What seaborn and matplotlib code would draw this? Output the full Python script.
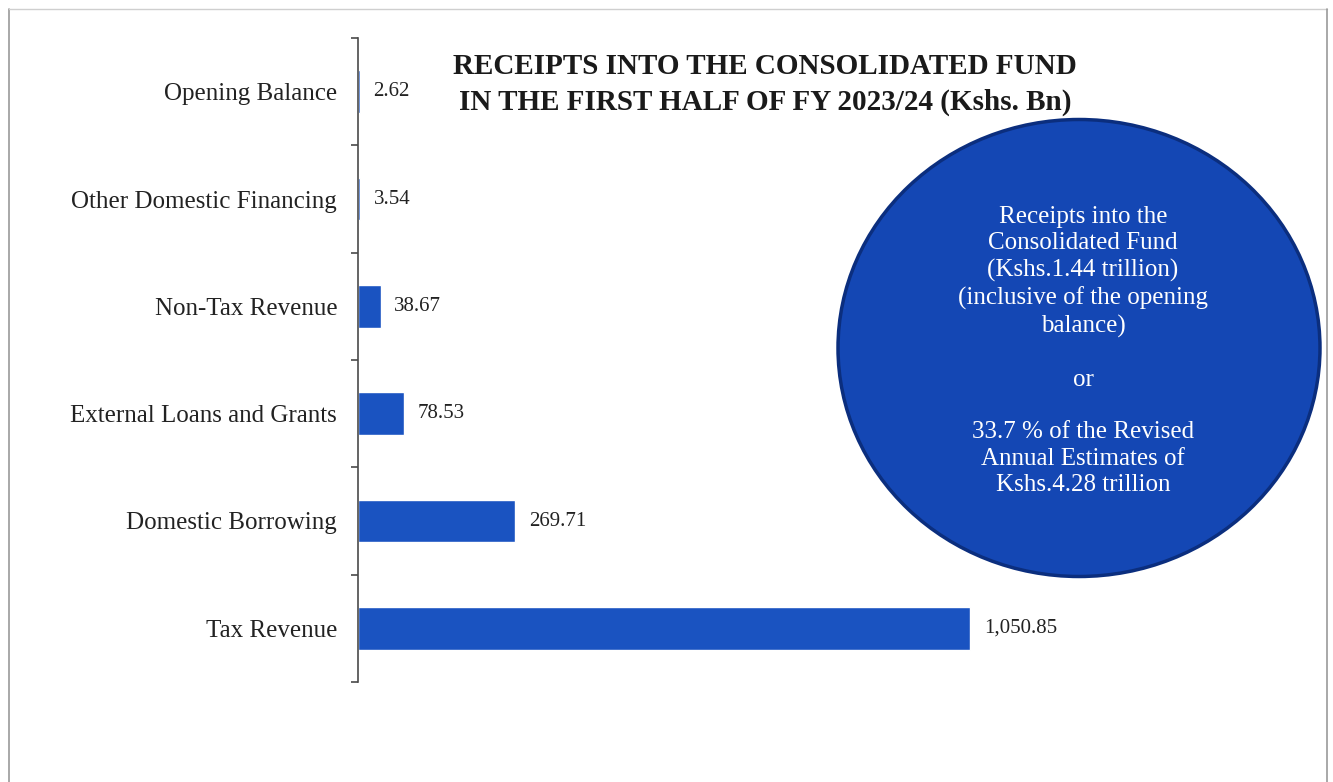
import matplotlib
matplotlib.use("Agg")
import matplotlib.pyplot as plt
from matplotlib.patches import Ellipse
from matplotlib.lines import Line2D
import seaborn as sns
import pandas as pd
import numpy as np

categories = ["Opening Balance", "Other Domestic Financing", "Non-Tax Revenue",
              "External Loans and Grants", "Domestic Borrowing", "Tax Revenue"]
values = [2.62, 3.54, 38.67, 78.53, 269.71, 1050.85]
value_labels = ["2.62", "3.54", "38.67", "78.53", "269.71", "1,050.85"]

title_lines = ["RECEIPTS INTO THE CONSOLIDATED FUND",
               "IN THE FIRST HALF OF FY 2023/24 (Kshs. Bn)"]
bubble_text = ("Receipts into the\nConsolidated Fund\n(Kshs.1.44 trillion)\n"
               "(inclusive of the opening\nbalance)\n\nor\n\n"
               "33.7 % of the Revised\nAnnual Estimates of\nKshs.4.28 trillion")

sns.set_theme(style="white")
plt.rcParams["font.family"] = ["Liberation Serif", "DejaVu Serif"]

W, H = 1333, 782
fig = plt.figure(figsize=(W / 100, H / 100), dpi=100)
fig.patch.set_facecolor("white")

ax = fig.add_axes([358 / W, 1 - 682 / H, (1300 - 358) / W, (682 - 38) / H])
df = pd.DataFrame({"category": categories, "value": values})
bar_color = "#1A53C1"
sns.barplot(data=df, x="value", y="category", orient="h", color=bar_color,
            width=0.4, saturation=1, ax=ax)

px_per_unit = 612 / 1050.85
ax.set_xlim(0, (1300 - 358) / px_per_unit)
ax.set_ylim(len(categories) - 0.5, -0.5)

for i, (v, lab) in enumerate(zip(values, value_labels)):
    ax.annotate(lab, xy=(v, i), xytext=(10, 0), textcoords="offset points",
                ha="left", va="center", fontsize=15, color="#222222")

ax.set_xlabel("")
ax.set_ylabel("")
ax.set_xticks([])
for s in ["top", "right", "bottom"]:
    ax.spines[s].set_visible(False)
ax.spines["left"].set_color("#4a4a4a")
ax.spines["left"].set_linewidth(1.2)
ax.tick_params(axis="y", which="major", length=0, pad=15, labelsize=18,
               labelcolor="#222222")
ax.set_yticks(np.arange(-0.5, len(categories), 1.0), minor=True)
ax.tick_params(axis="y", which="minor", length=5, width=1.2, color="#4a4a4a",
               direction="out", left=True)

# title
fig.text(765 / W, 1 - 66 / H, title_lines[0], ha="center", va="center",
         fontsize=21, fontweight="bold", color="#1a1a1a")
fig.text(765 / W, 1 - 102 / H, title_lines[1], ha="center", va="center",
         fontsize=21, fontweight="bold", color="#1a1a1a")

# summary bubble
bubble = Ellipse((1079 / W, 1 - 348 / H), width=482 / W, height=457 / H,
                 transform=fig.transFigure, facecolor="#1447B4",
                 edgecolor="#0B2E7E", linewidth=2.5, zorder=5)
fig.add_artist(bubble)
fig.text(1083 / W, 1 - 351 / H, bubble_text, ha="center", va="center",
         fontsize=18, color="white", linespacing=1.26, zorder=6,
         family=["Liberation Serif", "DejaVu Serif"])

# page frame
frame_kw = dict(color="#9a9a9a", linewidth=1.2, transform=fig.transFigure)
fig.add_artist(Line2D([9 / W, 9 / W], [1 - 9 / H, 0], **frame_kw))
fig.add_artist(Line2D([9 / W, 1327 / W], [1 - 9 / H, 1 - 9 / H],
                      color="#cfcfcf", linewidth=1.0, transform=fig.transFigure))
fig.add_artist(Line2D([1327 / W, 1327 / W], [1 - 9 / H, 0], **frame_kw))

fig.savefig("out.png", dpi=100)
